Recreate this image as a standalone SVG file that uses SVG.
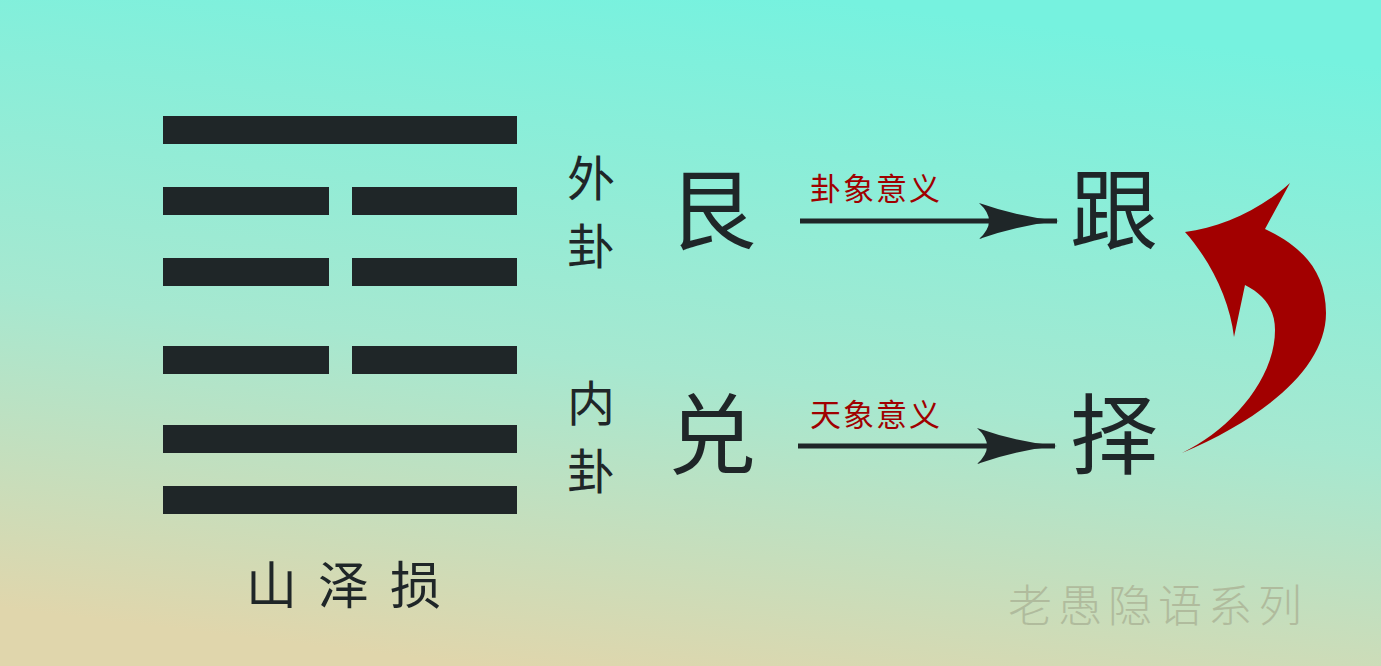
<svg xmlns="http://www.w3.org/2000/svg" width="1381" height="666" viewBox="0 0 1381 666">
<defs>
<linearGradient id="bg" x1="0.6" y1="0" x2="0.35" y2="1">
<stop offset="0" stop-color="#76f2df"/>
<stop offset="0.55" stop-color="#a6e8d0"/>
<stop offset="1" stop-color="#e0d6ac"/>
</linearGradient>
<marker id="ah" viewBox="0 0 80 36" refX="78" refY="18" markerWidth="80" markerHeight="36" markerUnits="userSpaceOnUse" orient="auto">
<path d="M0,0 Q40,14 80,18 Q40,22 0,36 Q20,18 0,0 Z" fill="#1f2628"/>
</marker>
<style>
.bar{fill:#1f2628}
.t{font-family:"Noto Sans CJK SC","Noto Sans CJK JP",sans-serif;fill:#1f2628}
.lbl{font-family:"Noto Sans CJK SC",sans-serif;fill:#a00000;font-size:31px;letter-spacing:2px}
.conn{stroke:#1f2628;stroke-width:5;fill:none;marker-end:url(#ah)}
</style>
</defs>
<rect width="1381" height="666" fill="url(#bg)"/>
<g id="hexagram">
<rect class="bar" x="163" y="116" width="354" height="28"/>
<rect class="bar" x="163" y="187" width="166" height="28"/>
<rect class="bar" x="352" y="187" width="165" height="28"/>
<rect class="bar" x="163" y="258" width="166" height="28"/>
<rect class="bar" x="352" y="258" width="165" height="28"/>
<rect class="bar" x="163" y="346" width="166" height="28"/>
<rect class="bar" x="352" y="346" width="165" height="28"/>
<rect class="bar" x="163" y="425" width="354" height="28"/>
<rect class="bar" x="163" y="486" width="354" height="28"/>
<text class="t" x="246" y="604" font-size="51" letter-spacing="21">山泽损</text>
</g>
<g id="outer-label"><text class="t" x="567" y="196" font-size="48">外</text><text class="t" x="567" y="264" font-size="48">卦</text></g>
<g id="inner-label"><text class="t" x="567" y="421" font-size="48">内</text><text class="t" x="567" y="489" font-size="48">卦</text></g>
<g id="gen"><text class="t" x="668" y="242" font-size="88">艮</text></g>
<g id="dui"><text class="t" x="668" y="467" font-size="88">兑</text></g>
<g id="gen2"><text class="t" x="1070" y="242" font-size="88">跟</text></g>
<g id="ze"><text class="t" x="1070" y="467" font-size="88">择</text></g>
<g id="connectors">
<line class="conn" x1="800" y1="221" x2="1057" y2="221"/>
<text class="lbl" x="810" y="200">卦象意义</text>
<line class="conn" x1="798" y1="446" x2="1055" y2="446"/>
<text class="lbl" x="810" y="426">天象意义</text>
<path d="M1182,453 C1260,420 1326,370 1326,313 C1326,270 1300,245 1265,229 L1290,183 C1260,210 1220,228 1185,232 C1210,260 1230,300 1234,337 L1245,285 C1265,295 1275,310 1275,330 C1275,380 1230,430 1182,453 Z" fill="#a20000"/>
</g>
<g id="watermark"><text x="1008" y="622" font-family="Noto Sans CJK SC,sans-serif" font-weight="300" font-size="44" letter-spacing="6" fill="#aeb89a" opacity="0.9">老愚隐语系列</text></g>
</svg>
